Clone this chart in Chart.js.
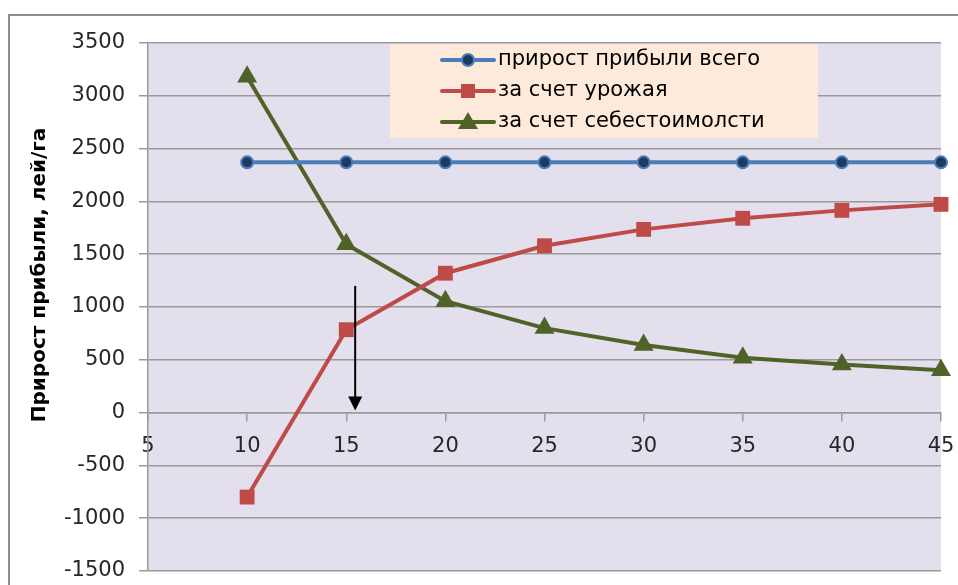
<!DOCTYPE html>
<html>
<head>
<meta charset="utf-8">
<script src="https://cdn.jsdelivr.net/npm/chart.js@4"></script>
<style>
  html, body { margin: 0; padding: 0; background: #fff; }
  #wrap { width: 958px; height: 585px; position: relative; }
</style>
</head>
<body>
<div id="wrap"><canvas id="myChart" width="958" height="585"></canvas></div>
<script>
// Data
const xValues = [10, 15, 20, 25, 30, 35, 40, 45];
const totalGain = [2370, 2370, 2370, 2370, 2370, 2370, 2370, 2370];
const yieldGain = [-800, 785, 1320, 1580, 1735, 1840, 1915, 1972];
const costGain = [3180, 1595, 1055, 800, 640, 520, 455, 400];
const seriesNames = ['прирост прибыли всего', 'за счет урожая', 'за счет себестоимолсти'];
const yTitle = 'Прирост прибыли, лей/га';
const arrowAt = { x: 15.45, top: 1200, bottom: 20 };

const FONT = '"DejaVu Sans", sans-serif';

function toPoints(values) {
    return xValues.map((x, i) => ({ x: x, y: values[i] }));
}

// frame, plot background, title, legend and arrow
const decor = {
    id: 'decor',
    beforeDraw(chart) {
        const ctx = chart.ctx;
        const a = chart.chartArea;
        ctx.save();
        ctx.fillStyle = '#E4DFEC';
        ctx.fillRect(a.left, a.top, a.right - a.left, a.bottom - a.top);
        ctx.strokeStyle = '#8E8E8E';
        ctx.lineWidth = 2;
        ctx.beginPath();
        ctx.moveTo(9, 585);
        ctx.lineTo(9, 15);
        ctx.lineTo(958, 15);
        ctx.stroke();
        // y title
        ctx.translate(40, 275);
        ctx.rotate(-Math.PI / 2);
        ctx.fillStyle = '#000';
        ctx.font = 'bold 20px ' + FONT;
        ctx.textAlign = 'center';
        ctx.textBaseline = 'middle';
        ctx.fillText(yTitle, 0, 0);
        ctx.restore();
    },
    afterDatasetsDraw(chart) {
        const ctx = chart.ctx;
        const xs = chart.scales.x, ys = chart.scales.y;
        ctx.save();
        // legend box
        ctx.fillStyle = '#FDEADA';
        ctx.fillRect(390, 44, 428, 94);
        const rows = [60, 91, 122];
        chart.data.datasets.forEach((ds, i) => {
            const y = rows[i];
            ctx.strokeStyle = ds.borderColor;
            ctx.lineWidth = 4;
            ctx.lineCap = 'round';
            ctx.beginPath();
            ctx.moveTo(442, y);
            ctx.lineTo(494, y);
            ctx.stroke();
            const cx = 468;
            if (ds.pointStyle === 'circle') {
                ctx.fillStyle = ds.pointBackgroundColor;
                ctx.strokeStyle = ds.pointBorderColor;
                ctx.lineWidth = 2;
                ctx.beginPath();
                ctx.arc(cx, y, 6, 0, Math.PI * 2);
                ctx.fill();
                ctx.stroke();
            } else if (ds.pointStyle === 'rect') {
                ctx.fillStyle = ds.pointBackgroundColor;
                ctx.fillRect(cx - 7, y - 7, 14, 14);
            } else {
                ctx.fillStyle = ds.pointBackgroundColor;
                ctx.beginPath();
                ctx.moveTo(cx, y - 10);
                ctx.lineTo(cx + 10, y + 7);
                ctx.lineTo(cx - 10, y + 7);
                ctx.closePath();
                ctx.fill();
            }
            ctx.fillStyle = '#000';
            ctx.font = '21px ' + FONT;
            ctx.textAlign = 'left';
            ctx.textBaseline = 'middle';
            ctx.fillText(ds.label, 498, y);
        });
        // arrow
        const ax = xs.getPixelForValue(arrowAt.x);
        const ay1 = ys.getPixelForValue(arrowAt.top);
        const ay2 = ys.getPixelForValue(arrowAt.bottom);
        ctx.strokeStyle = '#000';
        ctx.fillStyle = '#000';
        ctx.lineWidth = 2;
        ctx.lineCap = 'butt';
        ctx.beginPath();
        ctx.moveTo(ax, ay1);
        ctx.lineTo(ax, ay2 - 12);
        ctx.stroke();
        ctx.beginPath();
        ctx.moveTo(ax - 7, ay2 - 14);
        ctx.lineTo(ax + 7, ay2 - 14);
        ctx.lineTo(ax, ay2);
        ctx.closePath();
        ctx.fill();
        ctx.restore();
    }
};

const myChart = new Chart(document.getElementById('myChart'), {
    type: 'line',
    data: {
        datasets: [{
            label: seriesNames[0],
            data: toPoints(totalGain),
            borderColor: '#4A7EBB',
            borderWidth: 4,
            pointStyle: 'circle',
            pointRadius: 6,
            pointBackgroundColor: '#1F3A60',
            pointBorderColor: '#4A7EBB',
            pointBorderWidth: 2,
            tension: 0,
            clip: false
        }, {
            label: seriesNames[1],
            data: toPoints(yieldGain),
            borderColor: '#BE4B48',
            borderWidth: 4,
            pointStyle: 'rect',
            pointRadius: 10.5,
            pointBackgroundColor: '#BE4B48',
            pointBorderColor: '#BE4B48',
            pointBorderWidth: 0,
            tension: 0,
            clip: false
        }, {
            label: seriesNames[2],
            data: toPoints(costGain),
            borderColor: '#4F6228',
            borderWidth: 4,
            pointStyle: 'triangle',
            pointRadius: 11.5,
            pointBackgroundColor: '#4F6228',
            pointBorderColor: '#4F6228',
            pointBorderWidth: 0,
            tension: 0,
            clip: false
        }]
    },
    options: {
        responsive: false,
        animation: false,
        layout: { padding: { top: 43, right: 17, bottom: 14, left: 0 } },
        plugins: {
            legend: { display: false },
            tooltip: { enabled: false }
        },
        scales: {
            x: {
                type: 'linear',
                min: 5,
                max: 45,
                position: { y: 0 },
                afterFit: function(scale) {
                    scale.paddingLeft = 0;
                    scale.paddingRight = 0;
                },
                ticks: {
                    stepSize: 5,
                    padding: 13,
                    color: '#262626',
                    font: { family: FONT, size: 21 },
                    callback: v => String(v)
                },
                grid: {
                    drawOnChartArea: false,
                    drawTicks: true,
                    tickLength: 8,
                    color: '#9A9A9A',
                    lineWidth: 1.5
                },
                border: { display: true, color: '#9A9A9A', width: 1.5 }
            },
            y: {
                min: -1500,
                max: 3500,
                afterFit: function(scale) {
                    scale.width = 148;
                    scale.paddingTop = 0;
                    scale.paddingBottom = 0;
                },
                ticks: {
                    stepSize: 500,
                    padding: 14,
                    color: '#262626',
                    font: { family: FONT, size: 21 },
                    callback: v => String(v)
                },
                grid: {
                    color: '#9A9A9A',
                    lineWidth: 1.5,
                    tickLength: 9
                },
                border: { display: true, color: '#9A9A9A', width: 1.5 }
            }
        }
    },
    plugins: [decor]
});
</script>
</body>
</html>
